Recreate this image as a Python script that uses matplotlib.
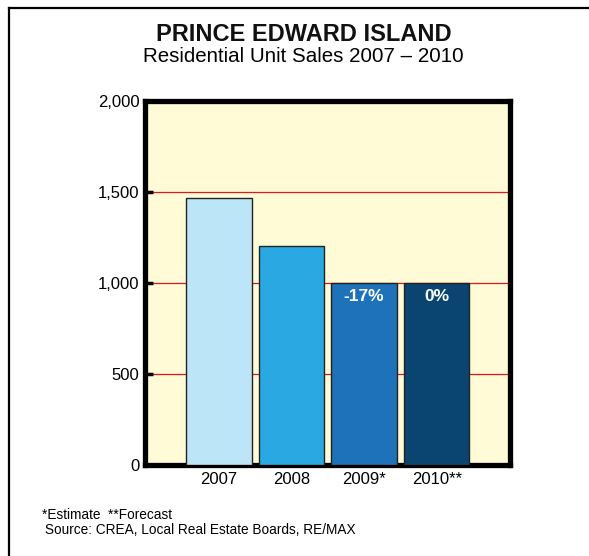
import numpy as np
import matplotlib.pyplot as plt
from matplotlib.lines import Line2D

years = ["2007", "2008", "2009*", "2010**"]
sales = [1467, 1203, 1000, 1000]
changes = ["", "", "-17%", "0%"]
colors = ["#bde5f8", "#29a8e1", "#1e72b9", "#0a4471"]
yticks = [0, 500, 1000, 1500, 2000]

plt.rcParams["font.family"] = ["Liberation Sans", "DejaVu Sans"]

fig = plt.figure(figsize=(5.89, 5.56), dpi=100)
ax = fig.add_axes([0.246, 0.1637, 0.62, 0.654])
ax.set_facecolor("#fffbd7")

x = np.arange(len(years))
bars = ax.bar(x, sales, width=0.9, color=colors, edgecolor="#222222",
              linewidth=1.0, zorder=3)

for b, lab in zip(bars, changes):
    if lab:
        ax.text(b.get_x() + b.get_width() / 2, b.get_height() - 30, lab,
                ha="center", va="top", color="white", fontsize=12.5,
                fontweight="bold", zorder=4)

ax.set_xlim(-1.02, 4.01)
ax.set_ylim(0, 2000)
ax.set_yticks(yticks)
ax.set_yticklabels([f"{v:,}" for v in yticks], fontsize=12)
ax.set_xticks(x)
ax.set_xticklabels(years, fontsize=12)
ax.tick_params(axis="y", direction="in", length=6, width=2.5, pad=4)
ax.tick_params(axis="x", length=0, pad=5)

for v in yticks[1:-1]:
    ax.axhline(v, color="#e8141c", linewidth=0.9, zorder=1)

for s in ax.spines.values():
    s.set_linewidth(3.8)
    s.set_color("black")

fig.text(0.515, 0.938, "PRINCE EDWARD ISLAND", ha="center", va="center",
         fontsize=17, fontweight="bold", color="#111111")
fig.text(0.515, 0.898, "Residential Unit Sales 2007 \u2013 2010", ha="center",
         va="center", fontsize=14.8)
fig.text(0.071, 0.074, "*Estimate  **Forecast", ha="left", va="center",
         fontsize=9.8)
fig.text(0.077, 0.047, "Source: CREA, Local Real Estate Boards, RE/MAX",
         ha="left", va="center", fontsize=9.8)

# outer frame (top and left edges only)
fig.add_artist(Line2D([0.0145, 1.0], [0.9856, 0.9856], color="black",
                      linewidth=1.6, transform=fig.transFigure))
fig.add_artist(Line2D([0.0145, 0.0145], [0.0, 0.9856], color="black",
                      linewidth=1.6, transform=fig.transFigure))

fig.savefig("out.png", dpi=100)
